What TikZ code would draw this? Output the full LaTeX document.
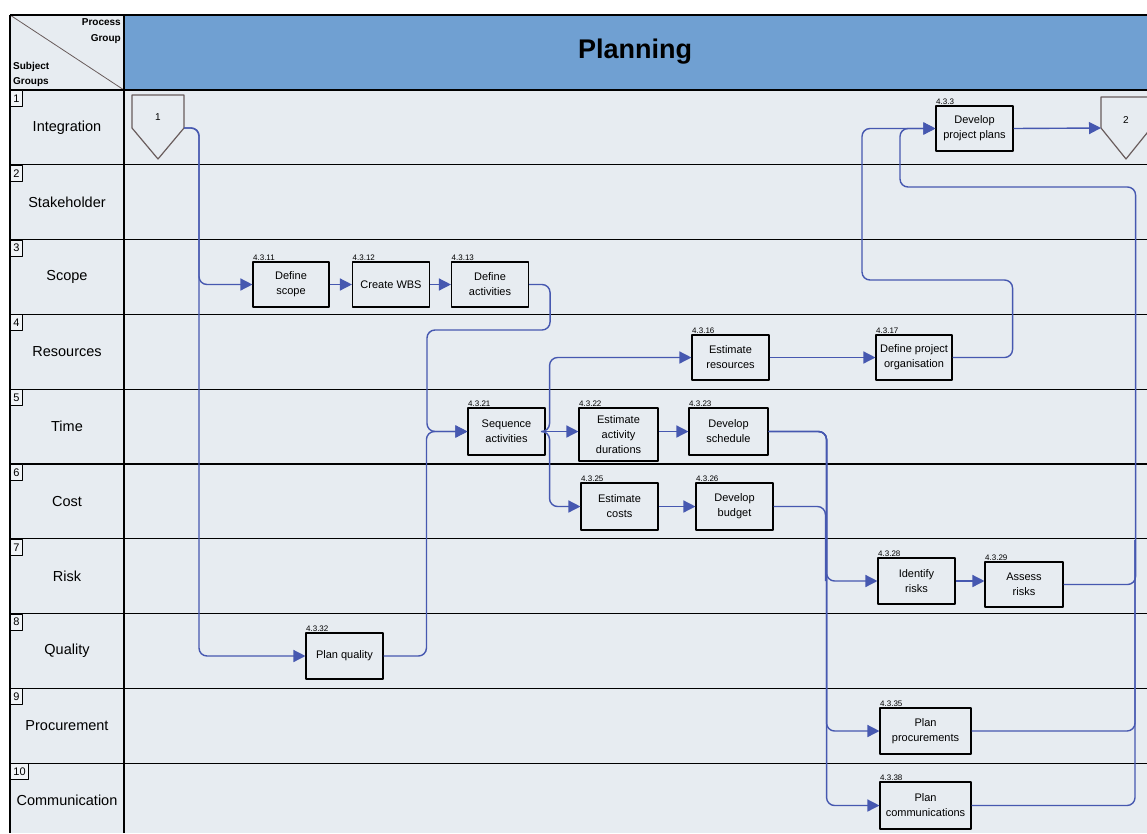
\documentclass[tikz,border=0pt]{standalone}
\usepackage{fontspec}
\setmainfont{Liberation Sans}
\usetikzlibrary{arrows.meta}
\definecolor{lanebg}{RGB}{231,236,241}
\definecolor{headblue}{RGB}{112,160,210}
\definecolor{flowblue}{RGB}{70,88,176}
\definecolor{tagline}{RGB}{105,92,92}
\begin{document}
\begin{tikzpicture}[x=1pt,y=-1pt,>={Triangle[length=12pt,width=12pt]},line join=round,
	act/.style={draw=black,line width=1.1pt,minimum width=77pt,minimum height=46pt,align=center,inner sep=1pt,font=\fontsize{11}{15}\selectfont},
	num/.style={anchor=south west,inner sep=0.5pt,font=\fontsize{8}{8}\selectfont},
	flow/.style={draw=flowblue,line width=1.4pt,rounded corners=8pt},
	lanename/.style={font=\fontsize{14.5}{16}\selectfont},
	lanenum/.style={draw=black,line width=0.9pt,fill=lanebg!60!white,anchor=north west,inner xsep=3pt,inner ysep=1pt,minimum height=16pt,font=\fontsize{11}{12}\selectfont},
	tag/.style={draw=tagline,line width=1.2pt}]
	\useasboundingbox (0,0) rectangle (1147,833);
	% frame and header
	\fill[lanebg] (10,15) rectangle (1147,833);
	\fill[headblue] (124,15) rectangle (1147,90);
	\draw[tagline,line width=0.8pt] (10,15) -- (124,90);
	\node[anchor=north east,align=right,inner sep=1pt,font=\bfseries\fontsize{10}{16}\selectfont] (procgrp) at (122,17) {Process\\Group};
	\node[anchor=south west,align=left,inner sep=1pt,font=\bfseries\fontsize{10}{15}\selectfont] (subjgrp) at (12,88) {Subject\\Groups};
	\node[font=\bfseries\fontsize{27}{30}\selectfont] (planning) at (635,52) {Planning};
	% lanes
	\foreach \name [count=\i] in {Integration,Stakeholder,Scope,Resources,Time,Cost,Risk,Quality,Procurement,Communication}{
		\pgfmathsetmacro\yt{90+74.8*(\i-1)}
		\draw[line width=1.3pt] (10,\yt) -- (1147,\yt);
		\node[lanename] (lane\i) at (67,\yt+37.4) {\name};
		\node[lanenum] (num\i) at (10,\yt) {\i};
	}
	\draw[line width=1.3pt] (10,15) -- (1147,15);
	\draw[line width=1.3pt] (10,15) -- (10,833);
	\draw[line width=1.3pt] (124,15) -- (124,833);
	% off-page connectors
	\draw[tag] (132,95) -- (184,95) -- (184,128) -- (158,159) -- (132,128) -- cycle;
	\coordinate (in1) at (184,128);
	\node[font=\fontsize{10}{10}\selectfont] (inlabel) at (158,117) {1};
	\draw[tag] (1101,97) -- (1151,97) -- (1151,128) -- (1126,159) -- (1101,128) -- cycle;
	\coordinate (out2) at (1101,128);
	\node[font=\fontsize{10}{10}\selectfont] (outlabel) at (1126,120) {2};
	% activities
	\node[act,minimum width=76pt,minimum height=45pt] (scope) at (291,284.5) {Define\\scope};
	\node[act,minimum height=45pt] (wbs) at (391,284.5) {Create WBS};
	\node[act,minimum height=45pt] (defact) at (490,284.5) {Define\\activities};
	\node[act,minimum height=45pt] (estres) at (730.5,357.5) {Estimate\\resources};
	\node[act,minimum width=76pt,minimum height=45pt] (deforg) at (914,357.5) {Define project\\organisation};
	\node[act,minimum height=45pt] (plans) at (974.5,128.5) {Develop\\project plans};
	\node[act,minimum height=47pt] (seq) at (506.5,431.5) {Sequence\\activities};
	\node[act,minimum width=79pt,minimum height=53pt] (dur) at (618.5,434.5) {Estimate\\activity\\durations};
	\node[act,minimum width=79pt,minimum height=47pt] (sched) at (728.5,431.5) {Develop\\schedule};
	\node[act,minimum height=47pt] (costs) at (619.5,506.5) {Estimate\\costs};
	\node[act,minimum height=47pt] (budget) at (734.5,506.5) {Develop\\budget};
	\node[act] (ident) at (916.5,581) {Identify\\risks};
	\node[act,minimum width=78pt,minimum height=45pt] (assess) at (1024,584.5) {Assess\\risks};
	\node[act] (quality) at (344.5,656) {Plan quality};
	\node[act,minimum width=91pt] (procure) at (925.5,731) {Plan\\procurements};
	\node[act,minimum width=91pt,minimum height=47pt] (comms) at (925.5,805.5) {Plan\\communications};
	% reference numbers
	\node[num] (scopeno) at (scope.north west) {4.3.11};
	\node[num] (wbsno) at (wbs.north west) {4.3.12};
	\node[num] (defactno) at (defact.north west) {4.3.13};
	\node[num] (estresno) at (estres.north west) {4.3.16};
	\node[num] (deforgno) at (deforg.north west) {4.3.17};
	\node[num] (plansno) at (plans.north west) {4.3.3};
	\node[num] (seqno) at (seq.north west) {4.3.21};
	\node[num] (durno) at (dur.north west) {4.3.22};
	\node[num] (schedno) at (sched.north west) {4.3.23};
	\node[num] (costsno) at (costs.north west) {4.3.25};
	\node[num] (budgetno) at (budget.north west) {4.3.26};
	\node[num] (identno) at (ident.north west) {4.3.28};
	\node[num] (assessno) at (assess.north west) {4.3.29};
	\node[num] (qualityno) at (quality.north west) {4.3.32};
	\node[num] (procureno) at (procure.north west) {4.3.35};
	\node[num] (commsno) at (comms.north west) {4.3.38};
	% flows
	\draw[flow,->] (in1) -- ++(15,0) |- (scope.west);
	\draw[flow,->] (in1) -- ++(15,0) |- (quality.west);
	\draw[flow,->] (scope) -- (wbs);
	\draw[flow,->] (wbs) -- (defact);
	\draw[flow,->] (defact.east) -- ++(21,0) |- (427,330) |- (seq.west);
	\draw[flow,->] (quality.east) -| ([xshift=-41pt]seq.west) -- (seq.west);
	\draw[flow,->] (seq.east) -- (seq.east -| dur.west);
	\draw[flow,->] (seq.east) -- ++(4,0) |- (estres.west);
	\draw[flow,->] (seq.east) -- ++(4,0) |- (costs.west);
	\draw[flow,->] (dur.east |- sched.west) -- (sched.west);
	\draw[flow,->] (estres) -- (deforg);
	\draw[flow,->] (costs) -- (budget);
	\draw[flow,->] (deforg.east) -- ++(60,0) |- (862,280) |- (plans.west);
	\draw[flow,->] (plans.east) -- (out2);
	\draw[flow,->] (sched.east) -- ++(58,0) |- (ident.west);
	\draw[flow,->] (sched.east) -- ++(58,0) |- (procure.west);
	\draw[flow,->] (sched.east) -- ++(58,0) |- (comms.west);
	\draw[flow] (budget.east) -| ([xshift=-52pt]ident.west);
	\draw[flow,->] (ident.east) -- (ident.east -| assess.west);
	\draw[flow,->] (assess.east) -- ++(72,0) |- (900,187) |- (plans.west);
	\draw[flow] (procure.east) -| (1135,540);
	\draw[flow] (comms.east) -| (1135,540);
\end{tikzpicture}
\end{document}
